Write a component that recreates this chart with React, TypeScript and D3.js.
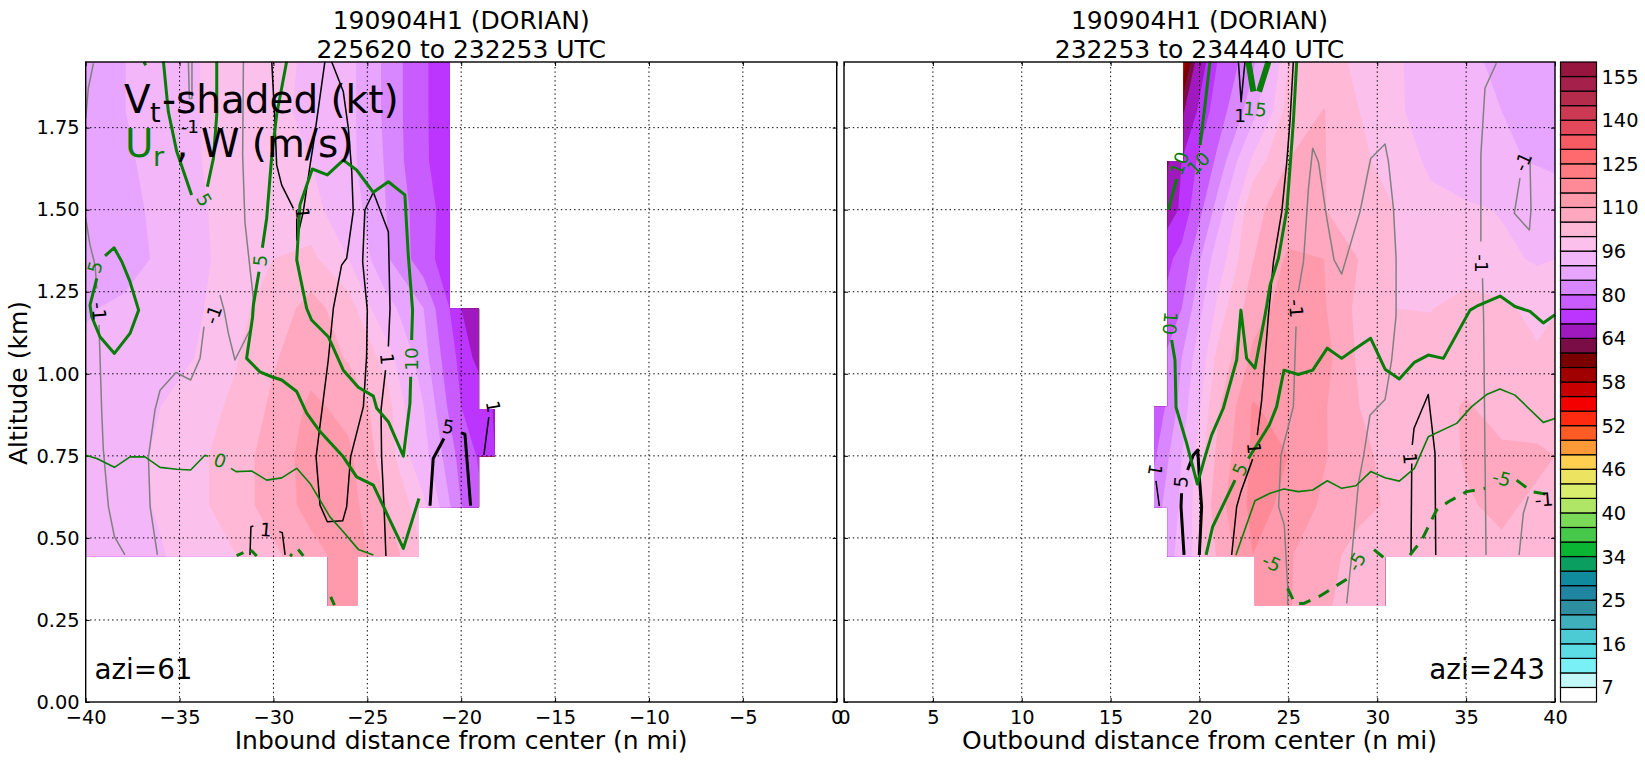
import React, { useEffect, useRef } from 'react';
import * as d3 from 'd3';

// colorbar levels (kt) and the colour of the band above each level
const levels = [7, 10, 13, 16, 19, 22, 25, 28, 31, 34, 36, 38, 40, 42, 44, 46, 48, 50, 52, 54, 56, 58, 60, 62, 64, 69, 74, 80, 85, 90, 96, 100, 105, 110, 115, 120, 125, 130, 135, 140, 145, 150, 155];
const levelColors = ['#c2f8f8', '#78f0f5', '#5cdde5', '#4ccbd5', '#3fafbb', '#2e8fa0', '#2085a0', '#108b9e', '#0a9f60', '#0bb534', '#46c84a', '#7ada58', '#b0e666', '#d8ee6c', '#ece360', '#ffd050', '#fd9a38', '#fd5c24', '#ff2a10', '#f50000', '#c80000', '#a00000', '#7a0000', '#7a0c46', '#a019bf', '#bb35ff', '#c95cff', '#d987ff', '#e8a5ff', '#f3b6f8', '#fcc0ec', '#ffb8d6', '#ffa8c0', '#ff9aad', '#ff8a97', '#ff7b82', '#ff6a6e', '#f65a62', '#e3485a', '#cb3a52', '#b52b4b', '#a5204a', '#97163f'];
const barLabels = [7, 16, 25, 34, 40, 46, 52, 58, 64, 80, 96, 110, 125, 140, 155];

const altitudes = [0.3, 0.45, 0.6, 0.75, 0.9, 1.05, 1.2, 1.35, 1.5, 1.65, 1.8, 1.95];
const xTicksLeft = [-40, -35, -30, -25, -20, -15, -10, -5, 0];
const xTicksRight = [0, 5, 10, 15, 20, 25, 30, 35, 40];
const yTicks = [0, 0.25, 0.5, 0.75, 1, 1.25, 1.5, 1.75];

// Vt by altitude (bottom row first), columns every 2 n mi
const columnsLeft = [-40, -38, -36, -34, -32, -30, -28, -26, -24, -22, -20, -18];
const vtLeft = [
  [92, 93.5, 95.7, 98, 100, 104, 109, 112, 108, 100, 90, 80],
  [92, 93.5, 95.7, 98, 100, 104, 108.5, 112, 108, 100, 90, 80],
  [92.5, 94.5, 96.5, 99, 102.5, 107.5, 111.5, 112, 105, 97, 80, 70],
  [92.5, 94.5, 96.7, 99, 102.5, 107.5, 112, 111, 102.5, 92, 78, 68],
  [92, 93.5, 96, 98, 101, 106, 111, 108.5, 102, 90, 74, 68],
  [91, 92, 93.5, 96.3, 99.6, 104.5, 108, 104.5, 98.5, 87, 72, 62],
  [89.5, 91, 93.5, 95.5, 98.7, 102, 107, 102, 92, 85, 69, 60],
  [85.5, 87.5, 91, 95, 98, 100, 101, 96, 85.8, 77, 67, 58],
  [86, 88, 91.5, 95, 98.8, 99.5, 97.5, 93, 85, 77, 68, 60],
  [87, 89, 92, 95.7, 99, 98.5, 96, 91.5, 84.5, 75, 68, 60],
  [87.5, 89.8, 93, 95.8, 99.7, 97.5, 94.5, 91.5, 84, 75, 67, 60],
  [87, 89.8, 92.8, 95.8, 100, 98.5, 94.5, 91.5, 84, 75, 67, 60],
];
const columnsRight = [17, 19, 21, 23, 25, 27, 29, 31, 33, 35, 37, 39, 41];
const vtRight = [
  [82, 92, 105, 113, 110.5, 106, 102, 100, 101, 104, 104, 104, 103],
  [82, 92, 105.5, 115, 110.5, 107, 103, 101, 101, 104, 104, 104, 103],
  [80, 91, 108, 116.5, 114, 109, 106.5, 104, 102.5, 104.5, 106, 104, 103],
  [76, 90, 106, 116, 115, 110.5, 106, 103.5, 102.5, 105.5, 106, 106, 104],
  [72, 87, 104, 115.5, 112.5, 110.5, 105, 103.5, 103, 105.5, 103, 102, 103],
  [75, 85, 101, 111, 112.5, 112, 104, 101, 101, 102.5, 102, 100.5, 102],
  [70, 80, 97, 108, 112, 110.5, 103.5, 100, 99.9, 101, 100.7, 99, 100.5],
  [68, 76, 93, 104.8, 110.8, 110, 104.8, 100, 98.5, 98.5, 97, 95.5, 96.5],
  [60, 70, 87, 104, 107, 105.2, 102, 100, 97.5, 96.8, 95.7, 94, 92],
  [55, 69, 81, 97, 105, 105.3, 100.5, 99, 95, 92.5, 90.8, 89.5, 88.5],
  [52, 63, 77, 88, 102, 105.2, 100, 97, 93.5, 91.5, 90, 88.5, 87],
  [50, 58, 74, 84, 100, 102, 99, 96.8, 93.5, 91, 89, 87.5, 87],
];

// data coverage: [top km, bottom km, x from, x to]
const coverLeft = [
  [1.95, 1.2, -40, -20.6],
  [1.2, 0.893, -40, -19.05],
  [0.893, 0.75, -40, -18.2],
  [0.75, 0.594, -40, -19.05],
  [0.594, 0.445, -40, -22.25],
  [0.445, 0.295, -27.1, -25.5],
];
const coverRight = [
  [1.95, 1.648, 19.1, 40],
  [1.648, 0.9, 18.2, 40],
  [0.9, 0.594, 17.44, 40],
  [0.594, 0.445, 18.2, 40],
  [0.445, 0.295, 23.1, 30.44],
];

// Ur contours, W contours: each piece is a run of [n mi, km]
const urZeroLeft = [
  [[-40, .752], [-39.41, .742], [-38.47, .715], [-37.64, .747], [-36.84, .747], [-36.04, .715], [-35.15, .709], [-34.41, .707], [-33.65, .752], [-33.47, .749]],
  [[-32.26, .712], [-31.99, .702], [-31.16, .704], [-30.36, .676], [-29.56, .683], [-28.76, .712], [-28.05, .666], [-27.52, .615], [-26.99, .564], [-26.28, .519], [-25.48, .465], [-24.68, .448]],
];
const urPosLeft = [
  [[-35.86, 1.951], [-35.6, 1.799], [-35.15, 1.677], [-34.36, 1.545]],
  [[-33.02, 1.951], [-33.02, 1.789], [-33.2, 1.656], [-33.52, 1.57]],
  [[-36.9, 1.95], [-36.8, 1.94]],
  [[-38.97, 1.359], [-38.49, 1.384], [-38.08, 1.342], [-37.64, 1.281], [-37.18, 1.194], [-37.64, 1.123], [-38.47, 1.062], [-39.24, 1.113], [-39.68, 1.174], [-39.77, 1.209], [-39.41, 1.291]],
  [[-29.3, 1.951], [-29.83, 1.789], [-30.1, 1.656], [-30.36, 1.474], [-30.59, 1.384]],
  [[-30.77, 1.311], [-31.07, 1.209], [-31.11, 1.174], [-31.43, 1.047], [-30.72, 1.006], [-30.1, .991], [-29.56, .981], [-28.76, .946], [-28.23, .88], [-27.52, .824], [-26.28, .747], [-25.57, .686], [-24.68, .661], [-23.97, .575], [-23.08, .468], [-22.25, .62]],
  [[-22.69, .991], [-22.73, .91], [-23.08, .749], [-23.88, .854], [-24.5, .895], [-24.68, .932], [-25.48, .959], [-26.28, 1.011], [-27.08, 1.113], [-27.97, 1.164], [-28.23, 1.199], [-28.76, 1.347], [-28.59, 1.514], [-27.93, 1.624], [-27.13, 1.606], [-26.28, 1.651], [-25.57, 1.621], [-24.68, 1.553], [-23.88, 1.585], [-23, 1.545], [-22.82, 1.362], [-22.59, 1.194], [-22.64, 1.103]],
  [[-31.96, .446], [-31.6, .455]],
  [[-31.21, .463], [-30.89, .445]],
  [[-29.12, .45], [-29, .445]],
  [[-28.68, .465], [-28.41, .445]],
  [[-26.95, .32], [-26.75, .295]],
];
const wPosLeft = [
  [[-30.09, 1.951], [-29.92, 1.768], [-29.83, 1.636], [-29.56, 1.575], [-28.94, 1.504]],
  [[-28.76, 1.474], [-28.76, 1.408], [-28.41, 1.494], [-28.05, 1.636], [-27.88, 1.697], [-27.26, 1.951]],
  [[-26.9, 1.951], [-26.28, 1.86], [-26.01, 1.748], [-25.83, 1.616], [-25.75, 1.494], [-26.1, 1.352], [-26.37, 1.331], [-26.81, 1.199], [-27.08, 1.042], [-27.73, .747], [-27.52, .6], [-27.13, .549], [-26.31, .552], [-26.1, .595], [-25.89, .747], [-25.21, .9], [-25.04, 1.052], [-25, 1.194], [-25.25, 1.342], [-25.13, 1.499], [-24.68, 1.553], [-23.88, 1.433], [-23.79, 1.199], [-23.88, 1.083]],
  [[-24.03, 1.011], [-24.27, .89], [-24.24, .747], [-24.11, .595], [-24.01, .445]],
  [[-31.25, .448], [-31.2, .534], [-31.07, .536]],
  [[-29.69, .519], [-29.53, .516], [-29.38, .448]],
  [[-18.53, .868], [-18.79, .753]],
];
const wStrongLeft = [
  [[-21.66, .598], [-21.49, .742], [-20.92, .803]],
  [[-20.01, .82], [-19.8, .816], [-19.5, .598]],
];
const wNegLeft = [
  [[-39.59, 1.946], [-39.86, 1.87], [-40, 1.778]],
  [[-40, 1.474], [-39.77, 1.392], [-39.5, 1.331], [-39.41, 1.26]],
  [[-39.29, 1.149], [-39.15, .89], [-39.06, .768], [-38.79, .595], [-38.47, .504], [-37.91, .448]],
  [[-34.53, 1.951], [-34.48, 1.839], [-34.34, 1.839], [-34.34, 1.951]],
  [[-31.6, 1.951], [-31.64, 1.667], [-31.52, 1.463], [-31.25, 1.321], [-31.07, 1.23], [-31.16, 1.144], [-32.05, 1.042], [-32.4, 1.123], [-32.63, 1.194], [-32.85, 1.24]],
  [[-33.7, 1.144], [-33.91, 1.047], [-34.41, .981], [-35.19, 1.004], [-36.04, .95], [-36.31, .89], [-36.66, .747], [-36.57, .595], [-36.18, .448]],
];

const urZeroRight = [
  [[22.05, .448], [23.12, .613], [23.97, .636], [24.75, .649], [25.56, .641], [26.37, .646], [27.19, .674], [28, .651], [28.8, .659], [29.63, .702], [30.44, .683], [31.24, .673], [32.09, .712], [32.87, .808], [34.47, .849], [35.31, .9], [36.19, .938], [36.9, .954], [37.75, .935], [39.34, .852], [40, .864]],
];
const urPosRight = [
  [[20.59, 1.951], [20.31, 1.819], [20.03, 1.697]],
  [[18.72, 1.594], [18.25, 1.5]],
  [[18.43, 1.103], [18.62, 1.042], [18.68, .898], [19.28, .788], [19.88, .664], [20.31, .747], [20.68, .813], [21.34, .895], [22.09, 1.042], [22.33, 1.194], [22.65, 1.047], [23.12, 1.017], [23.74, 1.194], [23.97, 1.27], [24.44, 1.352], [24.91, 1.499], [25.09, 1.626], [25.28, 1.768], [25.47, 1.951]],
  [[40, 1.18], [39.34, 1.155], [38.59, 1.19], [37.75, 1.205], [36.91, 1.237], [35.6, 1.206], [35.22, 1.194], [33.72, 1.047], [32.87, 1.057], [32.09, 1.035], [31.24, .984], [30.44, 1.014], [29.63, 1.108], [28.8, 1.078], [28, 1.047], [27.19, 1.078], [26.37, 1.011], [25.56, .998], [24.75, 1.011], [24.34, .9], [23.93, .844], [22.75, .742]],
  [[22, .676], [20.74, .534], [20.37, .448]],
];
const urStrongRight = [
  [[22.75, 1.951], [23.03, 1.86]],
  [[23.88, 1.951], [23.35, 1.86]],
];
const urNegRight = [
  [[31.84, .448], [32.5, .493], [33.34, .585], [34, .61], [35.03, .641], [36.06, .651]],
  [[37.84, .676], [38.69, .641], [39.72, .631]],
  [[30.34, .441], [29.5, .478]],
  [[28.28, .374], [26.78, .323], [25.84, .3], [25.37, .3], [24.81, .363]],
];
const wPosRight = [
  [[17.74, .597], [17.55, .674]],
  [[25.28, 1.951], [25.09, 1.768], [24.91, 1.646], [24.63, 1.494], [24.16, 1.342], [23.88, 1.179], [23.5, .92], [23.25, .813]],
  [[22.99, .74], [22.33, .641], [22.09, .595], [21.81, .448]],
  [[22.19, 1.951], [22.34, 1.829], [22.56, 1.951]],
  [[31.97, .783], [32.07, .834], [32.87, .937], [33.25, .757], [33.29, .448]],
  [[31.94, .727], [31.9, .448]],
];
const wStrongRight = [
  [[19.13, .448], [18.96, .595], [18.99, .636]],
  [[19.99, .448], [20.12, .595], [19.99, .686], [19.9, .768], [19.65, .752], [19.33, .707]],
];
const wNegRight = [
  [[25.56, 1.25], [25.85, 1.342], [26.13, 1.565], [26.37, 1.687], [26.69, 1.646], [27.16, 1.474], [27.57, 1.347], [28, 1.304], [29.03, 1.494], [29.63, 1.656], [30.44, 1.7], [30.63, 1.646], [30.91, 1.504], [31.06, 1.352], [31.06, 1.179], [30.81, 1.042], [30.44, .922], [29.59, .874], [29.22, .747], [28.94, .666], [28.56, .443], [28.28, .3]],
  [[25.43, 1.144], [25.28, .9], [24.58, .752], [24.45, .595], [24.77, .539], [24.96, .351], [24.96, .295]],
  [[36.7, 1.946], [36.06, 1.87], [35.83, 1.667], [35.83, 1.403]],
  [[35.92, 1.291], [35.98, 1.179], [36.12, .448]],
  [[38.03, 1.596], [37.71, 1.489], [38.56, 1.438], [38.65, 1.499], [38.59, 1.662]],
  [[38.5, .626], [38.22, .575], [37.98, .448]],
];

// contour labels: n mi, km, text, rotation
const greenLabelsLeft = [
  [-33.7, 1.53, '5', 60], [-30.7, 1.345, '5', -85], [-39.5, 1.325, '5', -75], [-22.65, 1.045, '10', -90], [-32.85, .735, '0', 20],
];
const blackLabelsLeft = [
  [-34.45, 1.755, '-1', 0], [-39.3, 1.19, '-1', 85], [-33.2, 1.18, '-1', -70], [-28.45, 1.49, '1', 85], [-23.95, 1.045, '1', 85], [-30.4, .525, '1', 5], [-20.7, .838, '5', 10], [-18.3, .9, '1', 80],
];
const greenLabelsRight = [
  [18.87, 1.641, '10', -70], [19.94, 1.641, '10', -45], [23.12, 1.806, '15', 5], [18.34, 1.154, '10', 95], [22.28, .709, '5', -65], [37, .681, '-5', 15], [28.84, .427, '-5', -60], [24.06, .424, '-5', 25],
];
const blackLabelsRight = [
  [22.28, 1.788, '1', 0], [25.43, 1.199, '-1', 85], [35.88, 1.336, '-1', 90], [38.2, 1.646, '-1', -65], [23.07, .773, '1', 85], [17.5, .707, '1', 100], [18.96, .671, '5', -85], [31.84, .742, '1', 85], [39.38, .617, '-1', -5],
];

const FONT = '"DejaVu Sans", sans-serif';
const GREEN = '#067d06';
const margin = { top: 62, bottom: 702 };
const panelLeft = { x0: 85.7, x1: 836.7 };
const panelRight = { x0: 844, x1: 1555 };

const App = () => {
  const svgRef = useRef<SVGSVGElement>(null);

  useEffect(() => {
    if (!svgRef.current) return;
    const svg = d3.select(svgRef.current);
    svg.selectAll('*').remove();

    const yScale = d3.scaleLinear().domain([0, 1.95]).range([margin.bottom, margin.top]);

    const drawPanel = (id: string, box: any, domain: number[], xTicks: number[], columns: number[], vt: number[][], cover: number[][], showY: boolean) => {
      const xScale = d3.scaleLinear().domain(domain).range([box.x0, box.x1]);
      const g = svg.append('g');

      // shaded Vt, clipped to where there is data
      const clip = g.append('clipPath').attr('id', id);
      cover.forEach(c => {
        clip.append('rect')
          .attr('x', xScale(c[2]))
          .attr('y', yScale(c[0]))
          .attr('width', xScale(c[3]) - xScale(c[2]))
          .attr('height', yScale(c[1]) - yScale(c[0]) + 0.5);
      });
      const nx = columns.length;
      const ny = altitudes.length;
      const dx = columns[1] - columns[0];
      const dy = altitudes[1] - altitudes[0];
      const project = d3.geoTransform({
        point(px: number, py: number) {
          this.stream.point(xScale(columns[0] + (px - 0.5) * dx), yScale(altitudes[0] + (py - 0.5) * dy));
        },
      });
      const path = d3.geoPath(project);
      const contours = d3.contours().size([nx, ny]).thresholds(levels)(vt.flat());
      const shade = g.append('g').attr('clip-path', `url(#${id})`);
      contours.forEach((c: any, i: number) => {
        if (!c.coordinates.length) return;
        shade.append('path').attr('d', path(c)).attr('fill', levelColors[i]);
      });

      // dotted grid
      const grid = g.append('g').attr('stroke', '#000').attr('stroke-width', 1).attr('stroke-dasharray', '1.4 3');
      xTicks.slice(1, -1).forEach(t => {
        grid.append('line').attr('x1', xScale(t)).attr('x2', xScale(t)).attr('y1', margin.bottom).attr('y2', margin.top);
      });
      yTicks.slice(1).forEach(t => {
        grid.append('line').attr('x1', box.x0).attr('x2', box.x1).attr('y1', yScale(t)).attr('y2', yScale(t));
      });

      // axes with short inward ticks
      const tickFormat = (d: any) => `${d}`.replace('-', '\u2212');
      const addAxis = (axis: any, transform: string) => {
        const a = g.append('g').attr('transform', transform).call(axis);
        a.select('.domain').remove();
        a.selectAll('line').attr('stroke', '#000').attr('stroke-width', 1);
        a.selectAll('text').attr('font-family', FONT).attr('font-size', 19.4).attr('fill', '#000');
      };
      addAxis(d3.axisBottom(xScale).tickValues(xTicks).tickSizeInner(-4).tickSizeOuter(0).tickPadding(8).tickFormat(tickFormat), `translate(0,${margin.bottom})`);
      addAxis(d3.axisTop(xScale).tickValues(xTicks).tickSizeInner(-4).tickSizeOuter(0).tickFormat(() => ''), `translate(0,${margin.top})`);
      addAxis(d3.axisLeft(yScale).tickValues(yTicks).tickSizeInner(-4).tickSizeOuter(0).tickPadding(6).tickFormat(showY ? (d3.format('.2f') as any) : () => ''), `translate(${box.x0},0)`);
      addAxis(d3.axisRight(yScale).tickValues(yTicks).tickSizeInner(-4).tickSizeOuter(0).tickFormat(() => ''), `translate(${box.x1},0)`);

      return { g, xScale };
    };

    const drawLines = (g: any, xScale: any, pieces: number[][][], color: string, width: number, dash?: string) => {
      const line = d3.line<number[]>().x(d => xScale(d[0])).y(d => yScale(d[1]));
      pieces.forEach(p => {
        g.append('path')
          .attr('d', line(p))
          .attr('fill', 'none')
          .attr('stroke', color)
          .attr('stroke-width', width)
          .attr('stroke-linejoin', 'round')
          .attr('stroke-dasharray', dash || null);
      });
    };

    const drawLabels = (g: any, xScale: any, labels: any[], color: string) => {
      labels.forEach(l => {
        g.append('text')
          .attr('transform', `translate(${xScale(l[0])},${yScale(l[1])}) rotate(${l[3]})`)
          .attr('text-anchor', 'middle')
          .attr('dominant-baseline', 'central')
          .attr('font-family', FONT)
          .attr('font-size', 18.5)
          .attr('fill', color)
          .text(l[2]);
      });
    };

    const left = drawPanel('cover-left', panelLeft, [-40, 0], xTicksLeft, columnsLeft, vtLeft, coverLeft, true);
    drawLines(left.g, left.xScale, wNegLeft, '#808080', 1.5);
    drawLines(left.g, left.xScale, wPosLeft, '#000', 1.5);
    drawLines(left.g, left.xScale, wStrongLeft, '#000', 3);
    drawLines(left.g, left.xScale, urZeroLeft, GREEN, 1.6);
    drawLines(left.g, left.xScale, urPosLeft, GREEN, 3);
    drawLabels(left.g, left.xScale, greenLabelsLeft, GREEN);
    drawLabels(left.g, left.xScale, blackLabelsLeft, '#000');

    const right = drawPanel('cover-right', panelRight, [0, 40], xTicksRight, columnsRight, vtRight, coverRight, false);
    drawLines(right.g, right.xScale, wNegRight, '#808080', 1.5);
    drawLines(right.g, right.xScale, wPosRight, '#000', 1.5);
    drawLines(right.g, right.xScale, wStrongRight, '#000', 3);
    drawLines(right.g, right.xScale, urZeroRight, GREEN, 1.6);
    drawLines(right.g, right.xScale, urPosRight, GREEN, 3);
    drawLines(right.g, right.xScale, urStrongRight, GREEN, 6);
    drawLines(right.g, right.xScale, urNegRight, GREEN, 3, '12 9');
    drawLabels(right.g, right.xScale, greenLabelsRight, GREEN);
    drawLabels(right.g, right.xScale, blackLabelsRight, '#000');

    // spines
    [panelLeft, panelRight].forEach(b => {
      svg.append('rect')
        .attr('x', b.x0).attr('y', margin.top)
        .attr('width', b.x1 - b.x0).attr('height', margin.bottom - margin.top)
        .attr('fill', 'none').attr('stroke', '#000').attr('stroke-width', 1.4);
    });

    const addText = (x: number, y: number, text: string, size: number, anchor = 'middle', color = '#000') =>
      svg.append('text')
        .attr('x', x).attr('y', y)
        .attr('text-anchor', anchor)
        .attr('font-family', FONT)
        .attr('font-size', size)
        .attr('fill', color)
        .text(text);

    // titles
    const midLeft = (panelLeft.x0 + panelLeft.x1) / 2;
    const midRight = (panelRight.x0 + panelRight.x1) / 2;
    addText(midLeft, 29, '190904H1 (DORIAN)', 25);
    addText(midLeft, 57.5, '225620 to 232253 UTC', 25);
    addText(midRight, 29, '190904H1 (DORIAN)', 25);
    addText(midRight, 57.5, '232253 to 234440 UTC', 25);
    addText(midLeft, 749, 'Inbound distance from center (n mi)', 25);
    addText(midRight, 749, 'Outbound distance from center (n mi)', 25);
    addText(0, 0, 'Altitude (km)', 25).attr('transform', 'translate(27,383) rotate(-90)');

    addText(94.5, 679, 'azi=61', 27.8, 'start');
    addText(1545, 679, 'azi=243', 27.8, 'end');

    // inset key
    addText(124, 113, 'V', 38.9, 'start');
    addText(150, 122, 't', 27, 'start');
    addText(162, 113, '-shaded (kt)', 38.9, 'start');
    addText(125, 157, 'U', 38.9, 'start', GREEN);
    addText(153, 166, 'r', 27, 'start', GREEN);
    addText(176, 157, ',', 38.9, 'start');
    addText(201, 157, 'W (m/s)', 38.9, 'start');

    // colorbar: one rect for each band, white below the first level
    const barLevels = [levels[0] - 3, ...levels];
    const cellScale = d3.scaleLinear().domain([0, barLevels.length]).range([margin.bottom, margin.top]);
    const bar = svg.append('g');
    barLevels.forEach((lv, i) => {
      bar.append('rect')
        .attr('x', 1560.5).attr('width', 36)
        .attr('y', cellScale(i + 1)).attr('height', cellScale(i) - cellScale(i + 1))
        .attr('fill', i === 0 ? '#fff' : levelColors[i - 1])
        .attr('stroke', '#000').attr('stroke-width', 1.2);
    });
    barLabels.forEach(v => {
      const idx = barLevels.indexOf(v);
      bar.append('line')
        .attr('x1', 1592.5).attr('x2', 1596.5)
        .attr('y1', cellScale(idx)).attr('y2', cellScale(idx))
        .attr('stroke', '#000').attr('stroke-width', 1);
      bar.append('text')
        .attr('x', 1601.5).attr('y', cellScale(idx))
        .attr('dy', '0.36em')
        .attr('font-family', FONT).attr('font-size', 19.4)
        .text(v);
    });
  }, []);

  return <svg ref={svgRef} width={1645} height={762} style={{ position: 'absolute', left: 0, top: 0, background: '#fff' }} />;
};

export default App;
